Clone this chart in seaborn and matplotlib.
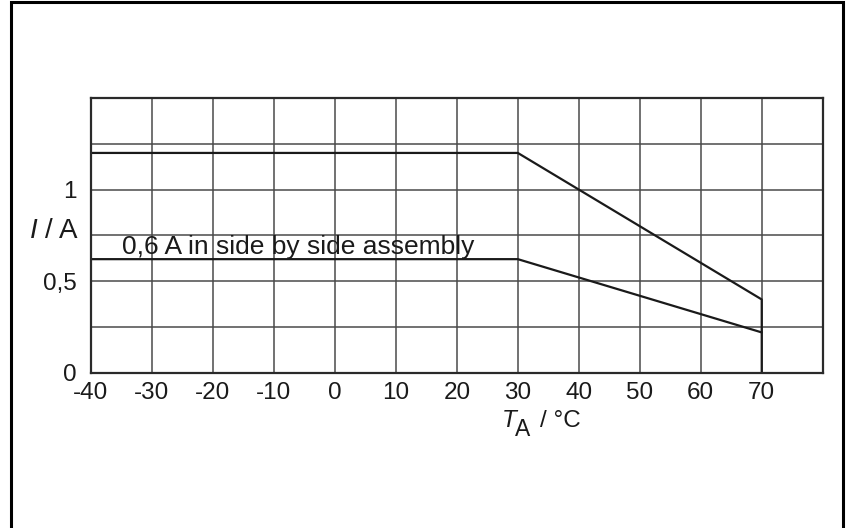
import matplotlib
matplotlib.use("Agg")
import matplotlib.pyplot as plt
import pandas as pd
import seaborn as sns
from matplotlib.patches import Rectangle

# Derating curve values
temp_single = [-40, 30, 70, 70]
current_single = [1.2, 1.2, 0.4, 0.0]
temp_side = [-40, 30, 70]
current_side = [0.62, 0.62, 0.22]

x_ticks = [-40, -30, -20, -10, 0, 10, 20, 30, 40, 50, 60, 70]
y_ticks = [0, 0.5, 1]
y_tick_labels = ["0", "0,5", "1"]
y_grid = [0.25, 0.75, 1.25]
note_text = "0,6 A in side by side assembly"

sns.set_style("white")
plt.rcParams["font.family"] = ["Liberation Sans", "DejaVu Sans"]
plt.rcParams["axes.unicode_minus"] = False

W, H = 848, 528
ink = "#1a1a1a"
fig = plt.figure(figsize=(W / 100, H / 100), dpi=100)
ax = fig.add_axes([91 / W, 1 - 372.7 / H, (822.7 - 91) / W, (372.7 - 98) / H])

line_kw = dict(color=ink, linewidth=1.6, estimator=None, sort=False, ax=ax)
sns.lineplot(data=pd.DataFrame({"T": temp_single, "I": current_single}), x="T", y="I", **line_kw)
sns.lineplot(data=pd.DataFrame({"T": temp_side, "I": current_side}), x="T", y="I", **line_kw)

ax.set_xlim(-40, 80)
ax.set_ylim(0, 1.5)
ax.set_xticks(x_ticks)
ax.set_xticks([80], minor=True)
ax.set_yticks(y_ticks)
ax.set_yticklabels(y_tick_labels)
ax.set_yticks(y_grid, minor=True)
ax.grid(True, which="both", color="#4a4a4a", linewidth=1.1)
ax.set_axisbelow(True)
ax.tick_params(which="both", length=0, labelsize=17.5, colors=ink)
ax.tick_params(axis="x", pad=7)
ax.tick_params(axis="y", pad=10)
for s in ax.spines.values():
    s.set_color("#2a2a2a")
    s.set_linewidth(1.6)
ax.set_xlabel("")
ax.set_ylabel("")

# axis titles placed by pixel position, subscript A kept near full size
def px(x, y):
    return x / W, 1 - y / H

fig.text(*px(30, 238), "I", fontsize=20, style="italic", color=ink, va="baseline")
fig.text(*px(45, 238), "/ A", fontsize=20, color=ink, va="baseline")
fig.text(*px(502, 427), "T", fontsize=17.5, style="italic", color=ink, va="baseline")
fig.text(*px(515, 436), "A", fontsize=16.5, color=ink, va="baseline")
fig.text(*px(540, 427), "/ °C", fontsize=17.5, color=ink, va="baseline")

ax.text(-34.9, 0.647, note_text, fontsize=19, color=ink, va="baseline", ha="left")

fig.add_artist(Rectangle((10.5 / W, -0.05), (842.5 - 10.5) / W, 1.05 - 2.5 / H,
                         transform=fig.transFigure, fill=False, edgecolor="black",
                         linewidth=2.2))

fig.savefig("out.png", dpi=100)
